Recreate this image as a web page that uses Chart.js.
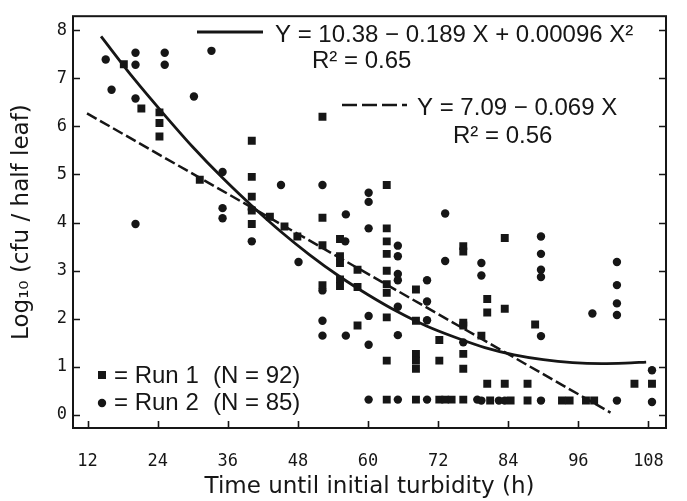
<!DOCTYPE html>
<html lang="en">
<head>
    <meta charset="UTF-8">
    <title>Log10 cfu vs time until initial turbidity</title>
    <script src="https://cdn.jsdelivr.net/npm/chart.js@4.4.1/dist/chart.umd.min.js"></script>
    <style>
        body {
            margin: 0;
            background: #ffffff;
        }
        #wrap {
            width: 687px;
            height: 501px;
        }
    </style>
</head>
<body>
    <div id="wrap">
        <canvas id="chart" width="687" height="501"></canvas>
    </div>

    <script>
        // Run 1 (squares)
        const run1X = [18.2, 21.2, 24.3, 24.3, 24.3, 31.2,
            40.1, 40.1, 40.1, 40.1, 40.1, 43.2, 45.7, 47.9,
            52.2, 52.2, 52.2, 52.2, 55.2, 55.2, 55.2, 55.2, 55.2,
            58.2, 58.2, 58.2,
            63.2, 63.2, 63.2, 63.2, 63.2, 63.2, 63.2, 63.2, 63.2, 63.2,
            68.2, 68.2, 68.2, 68.2, 68.2, 68.2,
            72.2, 72.2, 72.2, 73.2, 74.3,
            76.3, 76.3, 76.3, 76.3, 76.3, 76.3, 76.3,
            79.4, 80.4, 80.4, 80.4, 80.9,
            83.4, 83.4, 83.4, 84.4, 87.3, 87.3, 88.6,
            93.2, 94.5, 97.3, 98.7, 105.6, 108.6];
        const run1Y = [7.29, 6.37, 6.29, 6.07, 5.79, 4.89,
            5.70, 4.95, 4.54, 4.25, 3.97, 4.12, 3.92, 3.71,
            6.20, 4.10, 3.53, 2.70, 3.66, 3.30, 3.16, 2.82, 2.68,
            3.02, 2.66, 1.86,
            4.78, 3.88, 3.61, 3.35, 3.00, 2.72, 2.54, 2.03, 1.13, 0.32,
            2.61, 1.96, 1.27, 1.13, 0.96, 0.32,
            1.56, 1.13, 0.32, 0.32, 0.32,
            3.51, 3.40, 1.92, 1.86, 1.27, 0.96, 0.32,
            1.65, 2.41, 2.13, 0.65, 0.30,
            3.68, 2.21, 0.65, 0.30, 0.65, 0.30, 1.88,
            0.30, 0.30, 0.30, 0.30, 0.65, 0.65];

        // Run 2 (circles)
        const run2X = [15.1, 16.1, 20.2, 20.2, 20.2, 20.2, 25.2, 25.2, 30.2, 33.2,
            35.1, 35.1, 35.1, 40.1, 40.1, 45.1, 48.1,
            52.2, 52.2, 52.2, 52.2, 56.2, 56.1, 56.2,
            60.1, 60.1, 60.1, 60.1, 60.1, 60.1,
            65.1, 65.1, 65.1, 65.1, 65.1, 65.1, 65.1,
            70.1, 70.1, 70.1, 70.1, 73.2, 73.2, 76.3, 78.7,
            79.4, 79.4, 79.4, 82.4, 83.4,
            89.6, 89.6, 89.6, 89.6, 89.6, 89.6,
            98.4, 102.6, 102.6, 102.6, 102.6, 102.6, 108.6, 108.6];
        const run2Y = [7.39, 6.76, 7.53, 7.28, 6.58, 3.97, 7.53, 7.28, 6.62, 7.57,
            5.05, 4.30, 4.09, 4.27, 3.61, 4.78, 3.18,
            4.78, 2.59, 1.96, 1.65, 4.17, 3.61, 1.65,
            4.62, 4.43, 3.88, 2.06, 1.46, 0.32,
            3.52, 3.30, 2.93, 2.80, 2.25, 1.66, 0.32,
            2.80, 2.36, 1.97, 0.32, 4.19, 3.20, 1.51, 0.32,
            3.16, 2.90, 0.30, 0.30, 0.30,
            3.71, 3.35, 3.02, 2.87, 1.64, 0.30,
            2.11, 3.18, 2.70, 2.32, 2.08, 0.30, 0.93, 0.27];

        // Quadratic fit curve
        const quadX = [14.3, 20, 25, 30, 35, 40, 45, 50, 55, 60, 65, 70, 75, 80, 85, 90, 95, 100, 104, 107.6];
        const quadY = [7.87, 6.98, 6.26, 5.57, 4.94, 4.36, 3.82, 3.33, 2.89, 2.50, 2.15, 1.85, 1.61, 1.40, 1.25, 1.15, 1.09, 1.07, 1.08, 1.10];

        // Linear fit, end points of the dashed line
        const linX = [11.9, 101.5];
        const linY = [6.27, 0.05];

        const xTicks = [12, 24, 36, 48, 60, 72, 84, 96, 108];
        const yTicks = [0, 1, 2, 3, 4, 5, 6, 7, 8];

        const ink = '#161616';
        const toPts = (xs, ys) => xs.map((x, i) => ({ x: x, y: ys[i] }));

        // frame, inward ticks, equations and run legend
        const decorPlugin = {
            id: 'decor',
            afterDraw(chart) {
                const { ctx, chartArea: a, scales } = chart;
                ctx.save();
                ctx.strokeStyle = ink;
                ctx.fillStyle = ink;
                ctx.lineWidth = 2;
                ctx.strokeRect(a.left, a.top, a.right - a.left, a.bottom - a.top);

                ctx.lineWidth = 1.6;
                ctx.beginPath();
                xTicks.forEach(v => {
                    const px = Math.round(scales.x.getPixelForValue(v)) + 0.5;
                    ctx.moveTo(px, a.bottom);
                    ctx.lineTo(px, a.bottom - 7);
                });
                yTicks.forEach(v => {
                    const py = Math.round(scales.y.getPixelForValue(v)) + 0.5;
                    ctx.moveTo(a.left, py);
                    ctx.lineTo(a.left + 7, py);
                    ctx.moveTo(a.right, py);
                    ctx.lineTo(a.right - 7, py);
                });
                ctx.stroke();

                // fit legends
                ctx.lineWidth = 2.8;
                ctx.beginPath();
                ctx.moveTo(197, 32);
                ctx.lineTo(263, 32);
                ctx.stroke();
                ctx.lineWidth = 2.6;
                ctx.setLineDash([15, 5]);
                ctx.beginPath();
                ctx.moveTo(342, 105);
                ctx.lineTo(407, 105);
                ctx.stroke();
                ctx.setLineDash([]);

                ctx.font = '24px "Liberation Sans", Arial, sans-serif';
                ctx.textBaseline = 'middle';
                ctx.textAlign = 'left';
                ctx.fillText('Y = 10.38 \u2212 0.189 X + 0.00096 X\u00B2', 275, 35);
                ctx.fillText('R\u00B2 = 0.65', 312, 61);
                ctx.fillText('Y = 7.09 \u2212 0.069 X', 417, 108);
                ctx.fillText('R\u00B2 = 0.56', 453, 136);

                // run legend
                ctx.fillRect(98, 371, 8, 8);
                ctx.beginPath();
                ctx.arc(102, 403, 4.2, 0, Math.PI * 2);
                ctx.fill();
                ctx.fillText('= Run 1', 114, 376);
                ctx.fillText('(N = 92)', 213, 376);
                ctx.fillText('= Run 2', 114, 403);
                ctx.fillText('(N = 85)', 213, 403);
                ctx.restore();
            }
        };

        const tickFont = { family: '"DejaVu Sans Mono", monospace', size: 17 };
        const titleFont = { family: '"DejaVu Sans", sans-serif', size: 23 };

        new Chart(document.getElementById('chart'), {
            type: 'scatter',
            data: {
                datasets: [
                    {
                        label: 'Run 1',
                        data: toPts(run1X, run1Y),
                        pointStyle: 'rect',
                        pointRadius: 5.6,
                        backgroundColor: ink,
                        borderWidth: 0
                    },
                    {
                        label: 'Run 2',
                        data: toPts(run2X, run2Y),
                        pointStyle: 'circle',
                        pointRadius: 4.2,
                        backgroundColor: ink,
                        borderWidth: 0
                    },
                    {
                        label: 'Quadratic fit',
                        data: toPts(quadX, quadY),
                        showLine: true,
                        pointRadius: 0,
                        borderColor: ink,
                        borderWidth: 2.8,
                        cubicInterpolationMode: 'monotone'
                    },
                    {
                        label: 'Linear fit',
                        data: toPts(linX, linY),
                        showLine: true,
                        pointRadius: 0,
                        borderColor: ink,
                        borderWidth: 2.5,
                        borderDash: [11, 4]
                    }
                ]
            },
            options: {
                responsive: false,
                animation: false,
                layout: {
                    padding: { left: 0, top: 13, right: 5, bottom: 0 }
                },
                scales: {
                    x: {
                        type: 'linear',
                        min: 9.5,
                        max: 111,
                        afterBuildTicks: s => { s.ticks = xTicks.map(v => ({ value: v })); },
                        afterFit: s => { s.height = 73; },
                        grid: { display: false, drawTicks: false },
                        border: { display: false },
                        ticks: { color: ink, font: tickFont, padding: 23, maxRotation: 0 },
                        title: {
                            display: true,
                            text: 'Time until initial turbidity (h)',
                            color: ink,
                            font: titleFont,
                            padding: { top: 0, bottom: 0 }
                        }
                    },
                    y: {
                        type: 'linear',
                        min: -0.27,
                        max: 8.29,
                        afterBuildTicks: s => { s.ticks = yTicks.map(v => ({ value: v })); },
                        afterFit: s => { s.width = 73; },
                        grid: { display: false, drawTicks: false },
                        border: { display: false },
                        ticks: { color: ink, font: tickFont, padding: 6 },
                        title: {
                            display: true,
                            text: 'Log\u2081\u2080 (cfu / half leaf)',
                            color: ink,
                            font: titleFont,
                            padding: { top: 8, bottom: 0 }
                        }
                    }
                },
                plugins: {
                    legend: { display: false },
                    tooltip: { enabled: false }
                }
            },
            plugins: [decorPlugin]
        });
    </script>
</body>
</html>
